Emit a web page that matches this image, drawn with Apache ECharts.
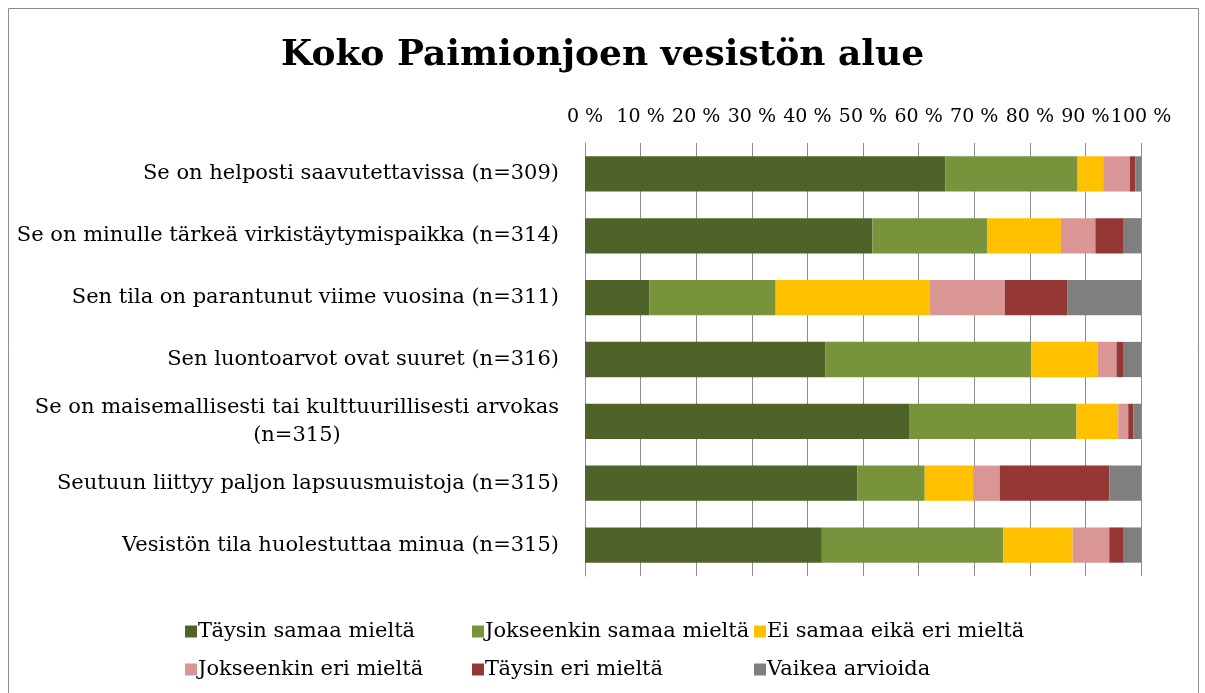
<!DOCTYPE html>
<html><head><meta charset="utf-8">
<script src="https://cdn.jsdelivr.net/npm/echarts@6/dist/echarts.min.js"></script>
<style>html,body{margin:0;padding:0;background:#fff}#c{width:1205px;height:693px}</style>
</head><body><div id="c"></div>
<script>
const categories = [
  "Se on helposti saavutettavissa (n=309)",
  "Se on minulle tärkeä virkistäytymispaikka (n=314)",
  "Sen tila on parantunut viime vuosina (n=311)",
  "Sen luontoarvot ovat suuret (n=316)",
  "Se on maisemallisesti tai kulttuurillisesti arvokas\n(n=315)",
  "Seutuun liittyy paljon lapsuusmuistoja (n=315)",
  "Vesistön tila huolestuttaa minua (n=315)"
];
const seriesNames = ["Täysin samaa mieltä","Jokseenkin samaa mieltä","Ei samaa eikä eri mieltä","Jokseenkin eri mieltä","Täysin eri mieltä","Vaikea arvioida"];
const taysinSamaa     = [64.8, 51.7, 11.6, 43.2, 58.4, 49.0, 42.6];
const jokseenkinSamaa = [23.8, 20.6, 22.7, 37.1, 30.0, 12.1, 32.6];
const eiSamaaEiEri    = [4.6, 13.3, 27.7, 11.9, 7.5, 8.7, 12.5];
const jokseenkinEri   = [4.8, 6.2, 13.5, 3.4, 1.8, 4.8, 6.6];
const taysinEri       = [1.0, 5.1, 11.3, 1.3, 0.9, 19.7, 2.6];
const vaikea          = [1.0, 3.1, 13.2, 3.1, 1.4, 5.7, 3.1];
const tickLabels = ["0 %","10 %","20 %","30 %","40 %","50 %","60 %","70 %","80 %","90 %","100 %"];

const values = [taysinSamaa, jokseenkinSamaa, eiSamaaEiEri, jokseenkinEri, taysinEri, vaikea];
const colors = ["#4F6228","#77933C","#FFC000","#D99694","#953735","#7F7F7F"];
const FONT = "DejaVu Serif";

const chart = echarts.init(document.getElementById('c'));
const legendPos = [[180,616],[467,616],[749,616],[180,654],[467,654],[749,654]];
const legends = seriesNames.map((n,i)=>({
  data:[n], left:legendPos[i][0], top:legendPos[i][1], icon:'rect', itemWidth:12, itemHeight:12, itemGap:0,
  textStyle:{fontFamily:FONT, fontSize:21, color:'#000', padding:[0,0,0,-4]}, selectedMode:false
}));
chart.setOption({
  animation:false,
  backgroundColor:'#fff',
  title:{text:'Koko Paimionjoen vesistön alue', left:'center', top:33,
    textStyle:{fontFamily:FONT, fontSize:36, fontWeight:'bold', color:'#000'}},
  graphic:[{type:'rect', shape:{x:8.5,y:8.5,width:1190,height:700}, style:{fill:'none', stroke:'#8c8c8c', lineWidth:1}, silent:true}],
  legend: legends,
  grid:{left:585, right:64, top:143, bottom:117},
  xAxis:{type:'value', position:'top', min:0, max:100, interval:10,
    axisLine:{show:false}, axisTick:{show:false},
    splitLine:{show:true, lineStyle:{color:'#8c8c8c', width:1}},
    axisLabel:{margin:16, fontFamily:FONT, fontSize:19, color:'#000',
      formatter:(v)=>tickLabels[Math.round(v/10)]}},
  yAxis:{type:'category', data:categories, inverse:true,
    axisLine:{show:true, lineStyle:{color:'#8c8c8c'}}, axisTick:{show:false},
    axisLabel:{margin:26, fontFamily:FONT, fontSize:21, color:'#000', lineHeight:28,
      formatter:(v)=>{const p=v.split('\n'); return p.length>1 ? '{a|'+p[0]+'}\n{c|'+p[1]+'}' : v;},
      rich:{a:{fontFamily:FONT,fontSize:21,color:'#000',lineHeight:28}, c:{fontFamily:FONT,fontSize:21,color:'#000',lineHeight:28,align:'center'}}}},
  series: seriesNames.map((n,i)=>({
    name:n, type:'bar', stack:'all', data:values[i], barCategoryGap:'43%',
    itemStyle:{color:colors[i]}
  }))
});
</script></body></html>
